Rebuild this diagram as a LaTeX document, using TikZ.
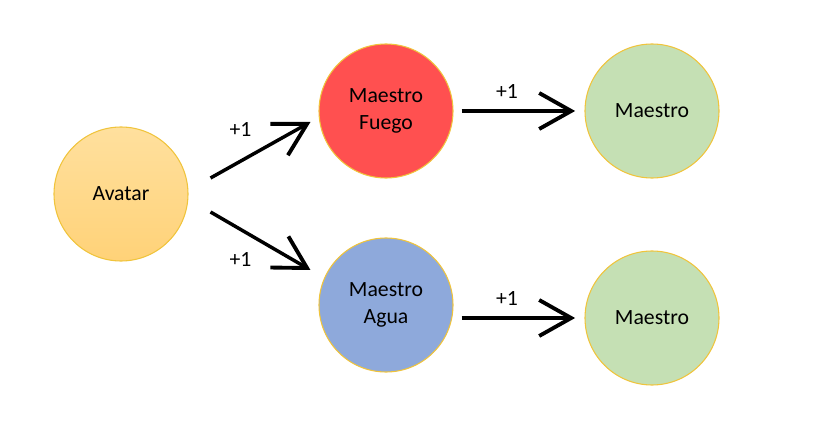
\documentclass[tikz,border=0pt]{standalone}
\usepackage{fontspec}
\setmainfont{Carlito}
\usetikzlibrary{arrows.meta,positioning}
\definecolor{ringgold}{RGB}{240,196,60}
\definecolor{avatartop}{RGB}{255,224,158}
\definecolor{avatarbot}{RGB}{255,210,120}
\definecolor{fuegored}{RGB}{255,80,80}
\definecolor{aguablue}{RGB}{142,169,219}
\definecolor{maestrogreen}{RGB}{197,224,180}
\tikzset{
    bender/.style={circle,draw=ringgold,line width=0.8pt,minimum size=100.5pt,
        inner sep=0pt,align=center,font=\fontsize{16.3}{20}\selectfont},
    jump/.style={line width=2.6pt,-{Straight Barb[length=24pt,width=27pt,line width=2.9pt]}},
    gain/.style={font=\fontsize{16.3}{20}\selectfont}
}
\begin{document}
\begin{tikzpicture}[x=0.75pt,y=0.75pt]
    \useasboundingbox (0,0) rectangle (822,447);
    \node[bender,top color=avatartop,bottom color=avatarbot] (avatar) at (121,253) {Avatar};
    \node[bender,fill=fuegored] (fuego) at (386,336) {Maestro\\Fuego};
    \node[bender,fill=aguablue] (agua) at (386,142) {Maestro\\Agua};
    \node[bender,fill=maestrogreen] (maestroA) at (652,336) {Maestro};
    \node[bender,fill=maestrogreen] (maestroB) at (652,129) {Maestro};
    \draw[jump] ([shift={(22,16)}]avatar.east) -- ([shift={(-8,-11)}]fuego.west)
        node[gain,pos=0.3,anchor=south,yshift=14pt] {+1};
    \draw[jump] ([shift={(22,-18)}]avatar.east) -- ([shift={(-8,35)}]agua.west)
        node[gain,pos=0.3,anchor=north,yshift=-12.4pt] {+1};
    \draw[jump] ([xshift=6]fuego.east) -- ([xshift=-7]maestroA.west)
        node[gain,pos=0.4,above=5pt] {+1};
    \draw[jump] ([xshift=6]agua.east |- maestroB.west) -- ([xshift=-7]maestroB.west)
        node[gain,pos=0.4,above=5pt] {+1};
\end{tikzpicture}
\end{document}
